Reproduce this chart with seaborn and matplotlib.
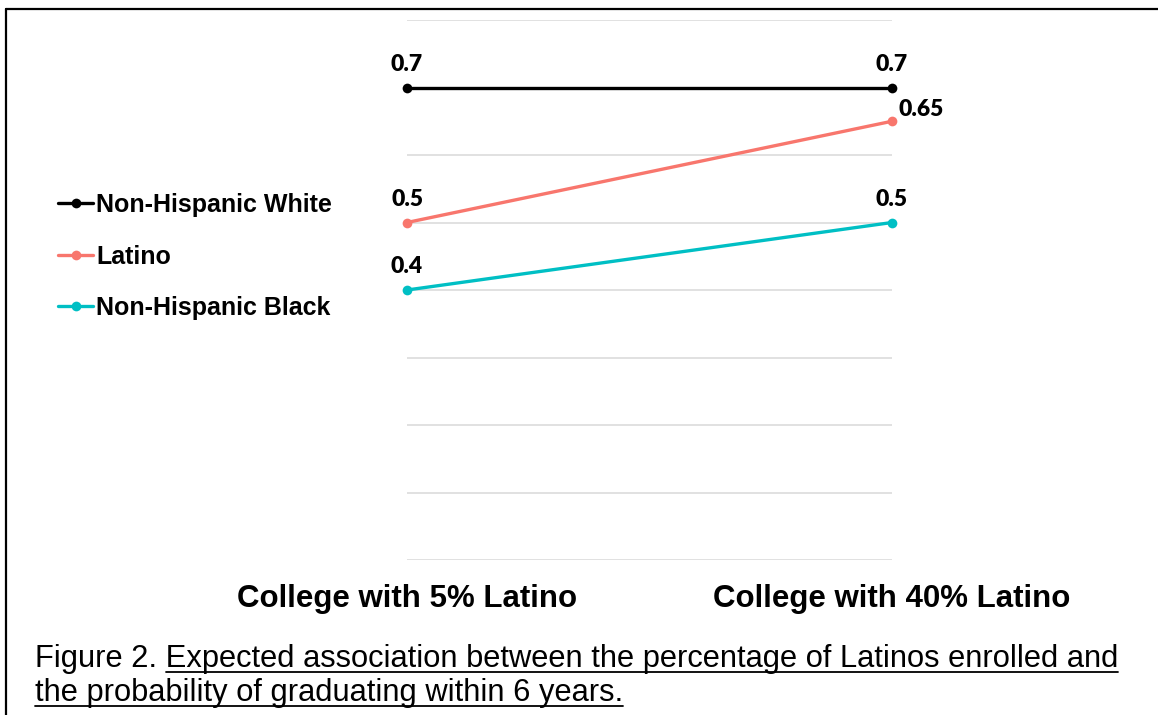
import matplotlib
matplotlib.use("Agg")
import matplotlib.pyplot as plt
from matplotlib.lines import Line2D
import seaborn as sns
import pandas as pd

# Data
categories = ["College with 5% Latino", "College with 40% Latino"]
groups = ["Non-Hispanic White", "Latino", "Non-Hispanic Black"]
white = [0.7, 0.7]
latino = [0.5, 0.65]
black = [0.4, 0.5]
colors = ["#000000", "#F8766D", "#00BFC4"]
y_ticks = [0.0, 0.1, 0.2, 0.3, 0.4, 0.5, 0.6, 0.7, 0.8]
caption_prefix = "Figure 2. "
caption_line1 = "Expected association between the percentage of Latinos enrolled and"
caption_line2 = "the probability of graduating within 6 years."

sns.set_theme(style="white")
plt.rcParams["font.family"] = ["Liberation Sans", "DejaVu Sans"]
plt.rcParams["text.color"] = "black"

rows = []
for g, vals in zip(groups, [white, latino, black]):
    for i, v in enumerate(vals):
        rows.append({"group": g, "pos": i, "value": v})
df = pd.DataFrame(rows)

W, H = 1158, 715
fig = plt.figure(figsize=(W / 100, H / 100), dpi=100)
fig.patch.set_facecolor("white")
ax = fig.add_axes([407 / W, 155 / H, 485 / W, 540 / H])

sns.lineplot(data=df, x="pos", y="value", hue="group", hue_order=groups,
             palette=colors, marker="o", markersize=7, markeredgewidth=0,
             linewidth=2.4, ax=ax, legend=True)
for ln in ax.lines:
    ln.set_clip_on(False)

ax.set_xlim(0, len(categories) - 1)
ax.set_ylim(y_ticks[0], y_ticks[-1])
ax.set_yticks(y_ticks)
ax.set_yticklabels([])
ax.set_xticks(range(len(categories)))
ax.set_xticklabels(categories, fontsize=22.5, fontweight="bold", color="black")
ax.tick_params(axis="x", length=0, pad=17)
ax.tick_params(axis="y", length=0)
ax.set_xlabel("")
ax.set_ylabel("")
ax.yaxis.grid(True, color="#d9d9d9", linewidth=1.1)
ax.xaxis.grid(False)
for s in ax.spines.values():
    s.set_visible(False)

# Value labels
for g, vals in zip(groups, [white, latino, black]):
    for i, v in enumerate(vals):
        if g == "Latino" and i == 1:
            off, ha = (5, 4), "left"
        else:
            off, ha = (0, 12), "center"
        ax.annotate(f"{v:g}", xy=(i, v), xytext=off, textcoords="offset points",
                    ha=ha, va="baseline", fontsize=16.5, fontweight="heavy",
                    family=["Lato", "DejaVu Sans"], color="black",
                    annotation_clip=False)

# Legend
handles, labels = ax.get_legend_handles_labels()
ax.legend(handles, labels, loc="center left", bbox_to_anchor=(58 / W, 1 - 256.5 / H),
          bbox_transform=fig.transFigure, frameon=False, borderpad=0, borderaxespad=0,
          handlelength=1.4, handletextpad=0.12, labelspacing=1.1, labelcolor="black",
          prop={"family": "Liberation Sans", "weight": "bold", "size": 18})

# Frame lines
fig.add_artist(Line2D([6 / W, 1], [1 - 9 / H, 1 - 9 / H], transform=fig.transFigure,
                      color="black", linewidth=1.6))
fig.add_artist(Line2D([6 / W, 6 / W], [0, 1 - 9 / H], transform=fig.transFigure,
                      color="black", linewidth=1.6))

# Caption
cap_size = 22.2
x0 = 35 / W
t1 = fig.text(x0, 1 - 667 / H, caption_prefix + caption_line1, fontsize=cap_size,
              va="baseline", ha="left", color="black")
t2 = fig.text(x0, 1 - 701 / H, caption_line2, fontsize=cap_size,
              va="baseline", ha="left", color="black")

fig.canvas.draw()
renderer = fig.canvas.get_renderer()
probe_a = fig.text(0, 0, caption_prefix + "E", fontsize=cap_size)
probe_b = fig.text(0, 0, "E", fontsize=cap_size)
prefix_w = (probe_a.get_window_extent(renderer).width
            - probe_b.get_window_extent(renderer).width)
probe_a.remove()
probe_b.remove()

for t, start_off in [(t1, prefix_w), (t2, 0)]:
    bb = t.get_window_extent(renderer)
    base_px = t.get_position()[1] * H
    y_line = (base_px - 5) / H
    fig.add_artist(Line2D([(bb.x0 + start_off) / W, bb.x1 / W], [y_line, y_line],
                          transform=fig.transFigure, color="black", linewidth=1.3))

fig.savefig("out.png", dpi=100, facecolor="white")
